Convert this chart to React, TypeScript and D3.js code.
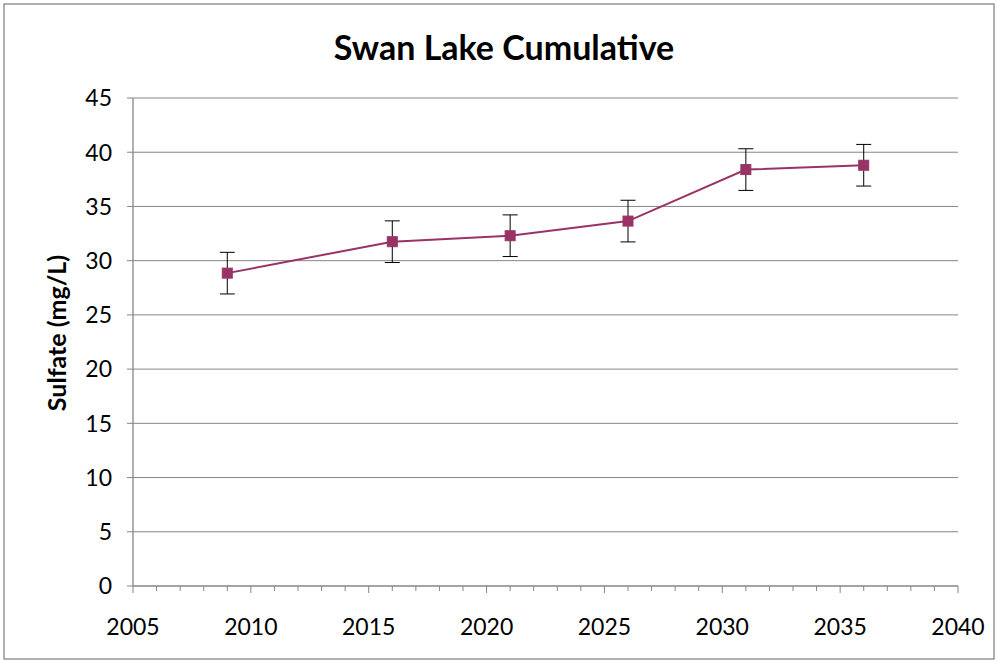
import React from "react";
import * as d3 from "d3";

const years = [2009, 2016, 2021, 2026, 2031, 2036];
const sulfate = [28.85, 31.75, 32.3, 33.65, 38.4, 38.8];
const errors = [1.92, 1.92, 1.92, 1.92, 1.92, 1.92];
const yTicks = [0, 5, 10, 15, 20, 25, 30, 35, 40, 45];
const xMajorTicks = [2005, 2010, 2015, 2020, 2025, 2030, 2035, 2040];
const xMinorTicks = d3.range(2005, 2041);

const W = 998;
const H = 663;
const FONT = "Lato, 'Open Sans', sans-serif";
const COLOR = "#993366";

export default function App() {
  const x = d3.scaleLinear().domain([2005, 2040]).range([133, 958]);
  const y = d3.scaleLinear().domain([0, 45]).range([586, 98]);
  const line = d3
    .line<number>()
    .x((_, i) => x(years[i]))
    .y((d) => y(d));
  const capHalf = 7.5;
  const ms = 10;

  return (
    <svg
      width={W}
      height={H}
      style={{ position: "absolute", left: 0, top: 0, background: "#fff" }}
      fontFamily={FONT}
    >
      <rect x={4} y={4} width={990} height={655} fill="#fff" stroke="#868686" strokeWidth={1.3} />
      <text x={504} y={60} textAnchor="middle" fontSize={34} fontWeight="bold" fill="#000">
        Swan Lake Cumulative
      </text>
      {yTicks.map((t) => (
        <g key={t}>
          {t > 0 && (
            <line x1={133} x2={958} y1={y(t)} y2={y(t)} stroke="#868686" strokeWidth={1} />
          )}
          <line x1={127} x2={133} y1={y(t)} y2={y(t)} stroke="#868686" strokeWidth={1} />
          <text x={112} y={y(t)} dy="0.36em" textAnchor="end" fontSize={23} fill="#000">
            {t}
          </text>
        </g>
      ))}
      <line x1={133} x2={133} y1={98} y2={586} stroke="#868686" strokeWidth={1.3} />
      <line x1={133} x2={958} y1={586} y2={586} stroke="#868686" strokeWidth={1.3} />
      {xMinorTicks.map((t) => (
        <line
          key={"m" + t}
          x1={x(t)}
          x2={x(t)}
          y1={586}
          y2={xMajorTicks.includes(t) ? 593 : 591}
          stroke="#868686"
          strokeWidth={1}
        />
      ))}
      {xMajorTicks.map((t) => (
        <text key={"l" + t} x={x(t)} y={635} textAnchor="middle" fontSize={23} fill="#000">
          {t}
        </text>
      ))}
      <text
        transform={`translate(57,333) rotate(-90)`}
        dy="0.36em"
        textAnchor="middle"
        fontSize={25}
        fontWeight="bold"
        fill="#000"
      >
        Sulfate (mg/L)
      </text>
      <path d={line(sulfate) || ""} fill="none" stroke={COLOR} strokeWidth={2} />
      {years.map((yr, i) => (
        <g key={"e" + yr} stroke="#000" strokeWidth={1}>
          <line x1={x(yr)} x2={x(yr)} y1={y(sulfate[i] + errors[i])} y2={y(sulfate[i] - errors[i])} />
          <line
            x1={x(yr) - capHalf}
            x2={x(yr) + capHalf}
            y1={y(sulfate[i] + errors[i])}
            y2={y(sulfate[i] + errors[i])}
          />
          <line
            x1={x(yr) - capHalf}
            x2={x(yr) + capHalf}
            y1={y(sulfate[i] - errors[i])}
            y2={y(sulfate[i] - errors[i])}
          />
        </g>
      ))}
      {years.map((yr, i) => (
        <rect
          key={"p" + yr}
          x={x(yr) - ms / 2}
          y={y(sulfate[i]) - ms / 2}
          width={ms}
          height={ms}
          fill={COLOR}
          stroke={COLOR}
          strokeWidth={1}
        />
      ))}
    </svg>
  );
}
